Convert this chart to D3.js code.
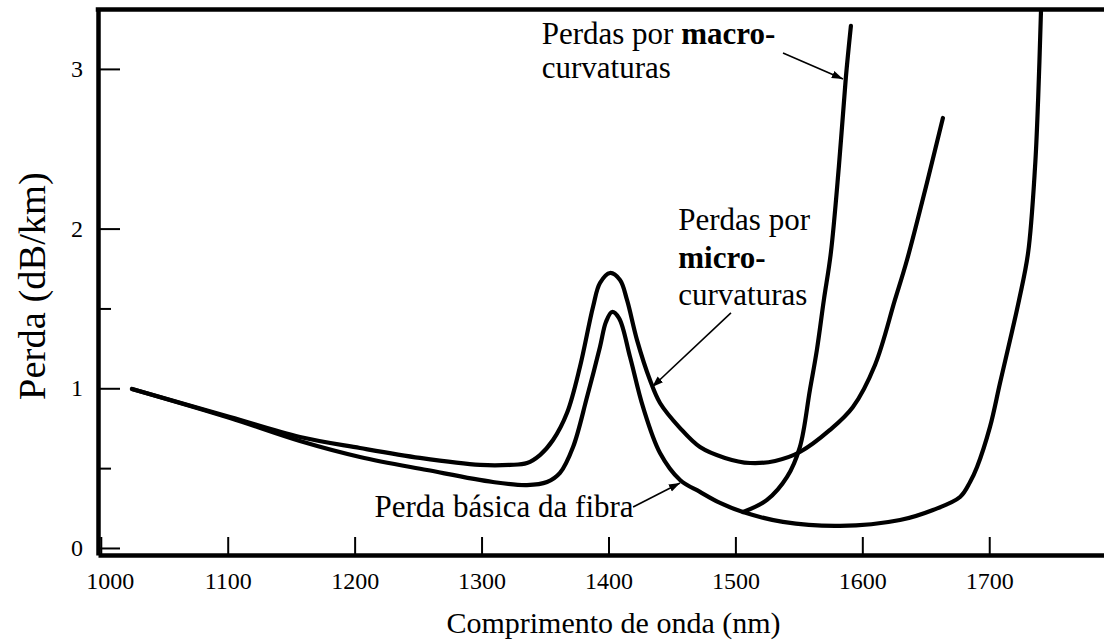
<!DOCTYPE html>
<html>
<head>
<meta charset="utf-8">
<script src="https://cdn.jsdelivr.net/npm/d3@7"></script>
<style>
  html, body { margin: 0; padding: 0; background: #fff; }
  svg text { font-family: "Liberation Serif", "Times New Roman", Times, "DejaVu Serif", serif !important; }
</style>
</head>
<body>
<svg id="chart" width="1104" height="642"></svg>
<script>
// ---- data ----
const xTicks = [1000, 1100, 1200, 1300, 1400, 1500, 1600, 1700];
const yTicksMajor = [0, 1, 2, 3];
const yTicksMinor = [0.5, 1.5];

const basicNm   = [1024.6, 1101.8, 1156.9, 1204.2, 1257.0, 1309.0, 1335.8, 1351.6, 1361.8, 1372.1, 1383.1, 1393.3, 1398.0, 1402.8, 1408.3, 1417.0, 1427.2, 1440.6, 1456.4, 1472.1, 1487.9, 1506.0, 1537.5, 1582.4, 1629.7, 1655.7, 1677.0, 1684.9, 1690.4, 1700.6, 1708.5, 1716.4, 1723.5, 1730.6, 1736.1, 1738.5, 1740.8];
const basicLoss = [0.996, 0.814, 0.670, 0.570, 0.488, 0.413, 0.394, 0.413, 0.470, 0.632, 0.945, 1.259, 1.415, 1.478, 1.440, 1.196, 0.883, 0.595, 0.426, 0.351, 0.282, 0.225, 0.163, 0.138, 0.175, 0.238, 0.319, 0.413, 0.507, 0.758, 1.033, 1.302, 1.553, 1.847, 2.386, 2.805, 3.369];

const microNm   = [1024.6, 1101.8, 1156.9, 1204.2, 1251.5, 1298.8, 1322.4, 1335.8, 1346.0, 1356.3, 1367.3, 1377.5, 1387.8, 1393.3, 1401.2, 1409.1, 1414.6, 1422.5, 1432.7, 1440.6, 1456.4, 1472.1, 1491.8, 1511.6, 1531.3, 1550.8, 1574.5, 1592.6, 1610.0, 1625.7, 1635.2, 1650.9, 1663.5];
const microLoss = [0.996, 0.820, 0.695, 0.626, 0.564, 0.520, 0.520, 0.532, 0.582, 0.676, 0.845, 1.133, 1.509, 1.659, 1.722, 1.678, 1.553, 1.302, 1.052, 0.908, 0.751, 0.632, 0.564, 0.532, 0.545, 0.601, 0.739, 0.883, 1.146, 1.553, 1.803, 2.286, 2.693];

const macroNm   = [1506.0, 1524.9, 1540.7, 1550.8, 1558.7, 1564.2, 1569.7, 1575.2, 1581.5, 1587.0, 1591.0];
const macroLoss = [0.225, 0.301, 0.445, 0.632, 0.989, 1.240, 1.553, 1.847, 2.386, 2.943, 3.269];

const xTitle = "Comprimento de onda (nm)";
const yTitle = "Perda (dB/km)";

// ---- layout ----
const svg = d3.select("#chart");
const W = 1104, H = 642;
const xDomain = [997.8, 1792];
const yDomain = [-0.044, 3.372];
const x = d3.scaleLinear().domain(xDomain).range([98, 1106]);
const y = d3.scaleLinear().domain(yDomain).range([555, 9.5]);

const AX = 4.5;
const SERIF = "'Liberation Serif', 'Times New Roman', Times, 'DejaVu Serif', serif";

// clip
const defs = svg.append("defs");
defs.append("clipPath").attr("id", "plotclip")
  .append("rect").attr("x", x(xDomain[0])).attr("y", y(yDomain[1]))
  .attr("width", W - x(xDomain[0])).attr("height", y(yDomain[0]) - y(yDomain[1]));

// arrow marker
defs.append("marker")
  .attr("id", "arrow").attr("viewBox", "0 0 10 10")
  .attr("refX", 10).attr("refY", 5)
  .attr("markerWidth", 7).attr("markerHeight", 7)
  .attr("markerUnits", "strokeWidth")
  .attr("orient", "auto")
  .append("path").attr("d", "M0,1.5 L10,5 L0,8.5 Z").attr("fill", "#000");

// ---- curves ----
const line = d3.line().x(d => x(d[0])).y(d => y(d[1])).curve(d3.curveCatmullRom.alpha(0.5));
const series = [
  d3.zip(basicNm, basicLoss),
  d3.zip(microNm, microLoss),
  d3.zip(macroNm, macroLoss)
];
svg.append("g").attr("clip-path", "url(#plotclip)")
  .selectAll("path").data(series).join("path")
  .attr("d", line)
  .attr("fill", "none").attr("stroke", "#000")
  .attr("stroke-width", 4.2).attr("stroke-linecap", "round").attr("stroke-linejoin", "round");

// ---- axes ----
const xAxis = d3.axisBottom(x).tickValues(xTicks).tickFormat(d3.format("d"))
  .tickSizeInner(-18).tickSizeOuter(0).tickPadding(17);
const gx = svg.append("g").attr("transform", `translate(0,${y(yDomain[0])})`).call(xAxis)
  .attr("font-family", SERIF).attr("font-size", 24);
gx.select(".domain").attr("stroke-width", AX);
gx.selectAll(".tick line").attr("stroke-width", 2);
gx.selectAll(".tick text").attr("dx", d => d === xTicks[0] ? 9 : 0);

const yAxis = d3.axisLeft(y).tickValues(yTicksMajor).tickFormat(d3.format("d"))
  .tickSizeInner(-22).tickSizeOuter(0).tickPadding(15);
const gy = svg.append("g").attr("transform", `translate(${x(xDomain[0])},0)`).call(yAxis)
  .attr("font-family", SERIF).attr("font-size", 24);
gy.select(".domain").attr("stroke-width", AX);
gy.selectAll(".tick line").attr("stroke-width", 2);

const yAxisMinor = d3.axisLeft(y).tickValues(yTicksMinor).tickFormat("")
  .tickSizeInner(-13).tickSizeOuter(0);
const gym = svg.append("g").attr("transform", `translate(${x(xDomain[0])},0)`).call(yAxisMinor);
gym.select(".domain").remove();
gym.selectAll(".tick line").attr("stroke-width", 2);

// top border
svg.append("line")
  .attr("x1", x(xDomain[0]) - AX / 2).attr("x2", W)
  .attr("y1", y(yDomain[1])).attr("y2", y(yDomain[1]))
  .attr("stroke", "#000").attr("stroke-width", AX);

// ---- titles ----
svg.append("text").attr("x", 613.5).attr("y", 633).attr("font-family", SERIF)
  .attr("text-anchor", "middle").attr("font-size", 30).text(xTitle);
svg.append("text").attr("transform", "translate(45,286) rotate(-90)").attr("font-family", SERIF)
  .attr("text-anchor", "middle").attr("font-size", 38.5).text(yTitle);

// ---- annotations ----
const FS = 31;
const ann = svg.append("g").attr("font-family", SERIF).attr("font-size", FS);
function textAt(nm, v) { return [x(nm), y(v)]; }

// macro
{
  const [tx, ty] = textAt(1347.4, 3.159);
  const t = ann.append("text").attr("x", tx).attr("y", ty);
  t.append("tspan").text("Perdas por ");
  t.append("tspan").attr("font-weight", "bold").text("macro-");
  ann.append("text").attr("x", tx).attr("y", ty + 34).text("curvaturas");
}
// micro
{
  const [tx, ty] = textAt(1455.0, 1.991);
  ann.append("text").attr("x", tx).attr("y", ty).text("Perdas por");
  ann.append("text").attr("x", tx).attr("y", ty + 38).attr("font-weight", "bold").text("micro-");
  ann.append("text").attr("x", tx).attr("y", ty + 75).text("curvaturas");
}
// basic
{
  const [tx, ty] = textAt(1215.7, 0.194);
  ann.append("text").attr("x", tx).attr("y", ty).text("Perda básica da fibra");
}

// arrows
const arrows = [
  [[1537.5, 3.100], [1584.8, 2.937]],
  [[1496.5, 1.472], [1434.4, 1.008]],
  [[1419.4, 0.257], [1456.4, 0.407]]
];
svg.append("g").selectAll("line").data(arrows).join("line")
  .attr("x1", d => x(d[0][0])).attr("y1", d => y(d[0][1]))
  .attr("x2", d => x(d[1][0])).attr("y2", d => y(d[1][1]))
  .attr("stroke", "#000").attr("stroke-width", 1.6)
  .attr("marker-end", "url(#arrow)");
</script>
</body>
</html>
